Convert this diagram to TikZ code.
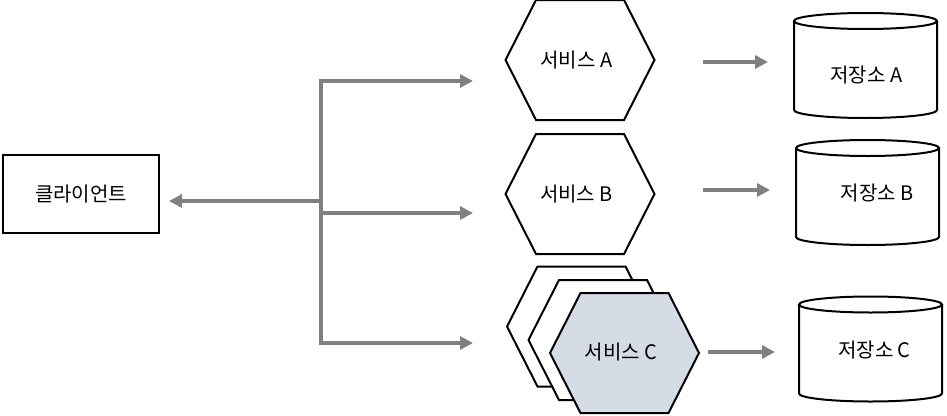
\documentclass[tikz,border=0pt]{standalone}
\usepackage{fontspec}
\setmainfont{Noto Sans CJK KR}
\definecolor{flowgray}{RGB}{128,128,128}
\definecolor{svcfill}{RGB}{214,220,229}
\usetikzlibrary{arrows.meta,calc}

\begin{document}
\begin{tikzpicture}[x=1pt,y=-1pt,
  flow/.style={draw=flowgray,line width=4pt,-{Triangle[length=13pt,width=13pt]}},
  client/.style={draw,line width=2pt,minimum width=156pt,minimum height=78pt,font=\fontsize{20}{22}\selectfont},
  lbl/.style={font=\fontsize{20}{22}\selectfont},
  hexa/.pic={\draw[line width=2pt,pic actions] (-74.5,0) -- (-44,-60) -- (44,-60) -- (74.5,0) -- (44,60) -- (-44,60) -- cycle;},
  drum/.pic={
    \draw[line width=2pt,fill=white] (-71.5,-44.5) -- (-71.5,44.5) arc[start angle=180,end angle=0,x radius=71.5,y radius=8] -- (71.5,-44.5);
    \draw[line width=2pt,fill=white] (0,-44.5) ellipse [x radius=71.5,y radius=8];}]
  \useasboundingbox (0,0) rectangle (947,415);
  % Client
  \node[client] (cli) at (81,194) {클라이언트};
  % Fan-out from the client
  \coordinate (hub) at (321,201);
  \coordinate (inA) at (473,81);
  \coordinate (inB) at (473,213);
  \coordinate (inC) at (473,343);
  \draw[flow,shorten >=9pt] (hub) -- (hub -| cli.east);
  \draw[flow] (hub) |- (inA);
  \draw[flow] (hub) |- (inC);
  \draw[flow] (inB -| hub) -- (inB);
  % Services A and B
  \foreach \s/\y in {A/60,B/194}{
    \pic[fill=white] at (580,\y) {hexa};
    \node[lbl] (svc\s) at (576.5,\y) {서비스 \s};
  }
  % Service C, three instances
  \pic[fill=white] at (581.5,326.5) {hexa};
  \pic[fill=white] at (603,340) {hexa};
  \pic[fill=svcfill] at (624.5,353) {hexa};
  \node[lbl] (svcC) at (621,352) {서비스 C};
  % Stores
  \pic at (865.5,65.5) {drum};
  \node[lbl] (stoA) at (866.5,75) {저장소 A};
  \pic at (867.5,192.5) {drum};
  \node[lbl] (stoB) at (877,193.5) {저장소 B};
  \pic at (870.5,349) {drum};
  \node[lbl] (stoC) at (874.5,350) {저장소 C};
  % Service to store
  \coordinate (oA) at (703,62);
  \coordinate (oB) at (703,190);
  \coordinate (oC) at (708,352);
  \draw[flow] (oA) -- ++(65,0);
  \draw[flow] (oB) -- ++(67,0);
  \draw[flow] (oC) -- ++(67,0);
\end{tikzpicture}
\end{document}
